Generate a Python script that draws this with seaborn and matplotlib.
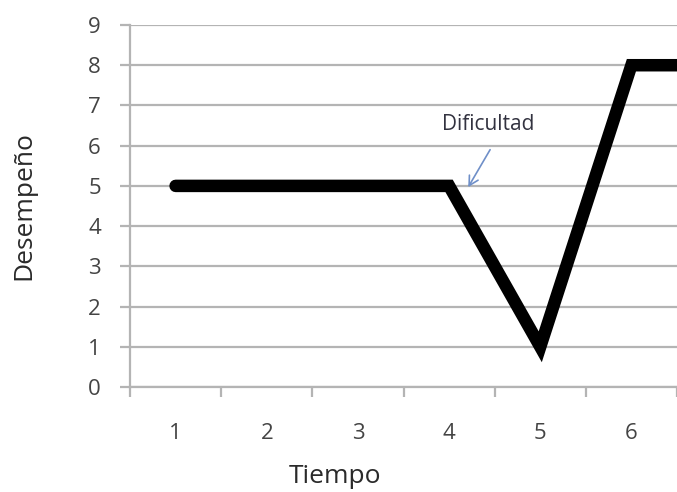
import numpy as np
import pandas as pd
import matplotlib
matplotlib.use("Agg")
import matplotlib.pyplot as plt
import seaborn as sns

# Data
tiempo = [1, 2, 3, 4, 5, 6, 7]
desempeno = [5, 5, 5, 5, 1, 8, 8]
x_labels = ["1", "2", "3", "4", "5", "6"]
y_ticks = [0, 1, 2, 3, 4, 5, 6, 7, 8, 9]
annot_text = "Dificultad"

sns.set_theme(style="white")
plt.rcParams["font.family"] = ["Open Sans", "DejaVu Sans"]

df = pd.DataFrame({"Tiempo": tiempo, "Desempeño": desempeno})

fig = plt.figure(figsize=(6.77, 4.92), dpi=100)
ax = fig.add_axes([130 / 677, (492 - 387) / 492, 547 / 677, (387 - 25) / 492])

grid_c = "#b4b4b4"
for yv in y_ticks:
    ax.axhline(yv, color=grid_c, lw=1.6, zorder=1)

sns.lineplot(data=df, x="Tiempo", y="Desempeño", color="black", lw=9,
             ax=ax, zorder=3, solid_capstyle="round", solid_joinstyle="miter",
             clip_on=True)

ax.set_xlim(0.5, 6.5)
ax.set_ylim(0, 9)
ax.set_yticks(y_ticks)
ax.set_xticks(range(1, 7))
ax.set_xticklabels(x_labels)
ax.set_xticks(np.arange(0.5, 7.0, 1.0), minor=True)

for s in ["top", "right"]:
    ax.spines[s].set_visible(False)
for s in ["left", "bottom"]:
    ax.spines[s].set_color(grid_c)
    ax.spines[s].set_linewidth(1.6)

tick_col = "#444444"
ax.tick_params(axis="y", which="major", length=7, width=1.6, color=grid_c,
               direction="out", pad=14, labelsize=16, labelcolor=tick_col, left=True)
ax.tick_params(axis="x", which="major", length=0, pad=26, labelsize=16,
               labelcolor=tick_col, bottom=True)
ax.tick_params(axis="x", which="minor", length=7, width=1.6, color=grid_c,
               direction="out", bottom=True)

ax.set_xlabel("Tiempo", fontsize=19, color="#2a2a2a")
ax.xaxis.set_label_coords(0.375, -0.212)
ax.set_ylabel("Desempeño", fontsize=19, color="#2a2a2a", labelpad=37)

ax.text(4.43, 6.52, annot_text, fontsize=15, color="#333340",
        ha="center", va="center", zorder=4)
ax.annotate("", xy=(4.21, 4.97), xytext=(4.45, 5.9),
            arrowprops=dict(arrowstyle="->,head_length=0.55,head_width=0.3",
                            color="#6f8fc8", lw=1.2, shrinkA=0, shrinkB=0),
            zorder=4)

fig.savefig("out.png", dpi=100)
